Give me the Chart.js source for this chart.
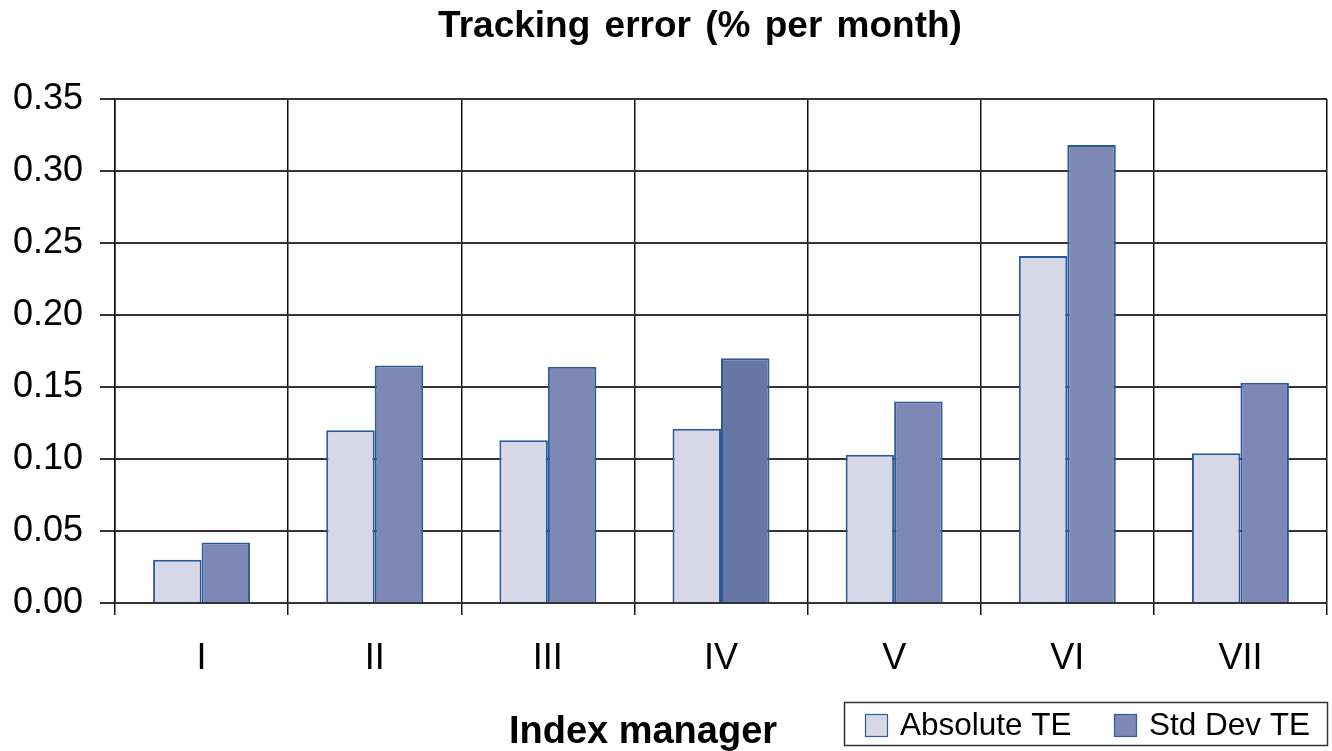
<!DOCTYPE html>
<html>
<head>
<meta charset="utf-8">
<script src="https://cdn.jsdelivr.net/npm/chart.js@4"></script>
<style>
  html, body { margin: 0; padding: 0; background: #fff; }
  #wrap { width: 1332px; height: 751px; }
</style>
</head>
<body>
<div id="wrap"><canvas id="teChart" width="1332" height="751"></canvas></div>
<script>
// Dados
const managers = ["I", "II", "III", "IV", "V", "VI", "VII"];
const absoluteTE = [0.030, 0.120, 0.113, 0.121, 0.103, 0.241, 0.104];
const stdDevTE = [0.042, 0.165, 0.164, 0.170, 0.140, 0.318, 0.153];
const yTicks = [0, 0.05, 0.1, 0.15, 0.2, 0.25, 0.3, 0.35];

const FONT = "'Liberation Sans', Arial, Helvetica, sans-serif";

// Cor da barra IV um pouco mais escura, como no original
const stdColors = managers.map((m) => (m === "IV" ? "#6878a6" : "#7d88b6"));

// Título, título do eixo x e legenda com moldura
const extraText = {
  id: "extraText",
  afterDraw(chart) {
    const ctx = chart.ctx;
    ctx.save();
    ctx.fillStyle = "#000";
    ctx.textAlign = "center";
    ctx.textBaseline = "middle";
    ctx.font = "bold 37px " + FONT;
    ctx.wordSpacing = "4px";
    ctx.fillText("Tracking error (% per month)", 700, 27);
    ctx.wordSpacing = "0px";
    ctx.font = "bold 38px " + FONT;
    ctx.fillText("Index manager", 643, 733);

    // legenda
    ctx.strokeStyle = "#333";
    ctx.lineWidth = 1.5;
    ctx.strokeRect(844.5, 702.5, 483, 43);
    const items = chart.data.datasets;
    const xs = [865, 1114];
    ctx.font = "31.5px " + FONT;
    ctx.textAlign = "left";
    items.forEach((ds, i) => {
      const c = Array.isArray(ds.backgroundColor) ? ds.backgroundColor[0] : ds.backgroundColor;
      ctx.fillStyle = c;
      ctx.fillRect(xs[i], 714, 23, 23);
      ctx.strokeStyle = "#2f5d99";
      ctx.lineWidth = 1.2;
      ctx.strokeRect(xs[i] + 0.5, 714.5, 22, 22);
      ctx.fillStyle = "#000";
      ctx.fillText(ds.label, xs[i] + 35, 726);
    });
    ctx.restore();
  },
};

new Chart(document.getElementById("teChart"), {
  type: "bar",
  data: {
    labels: managers,
    datasets: [
      {
        label: "Absolute TE",
        data: absoluteTE,
        backgroundColor: "#d6d8e7",
        borderColor: "#2a5a98",
        borderWidth: 2,
        categoryPercentage: 0.56,
        barPercentage: 1,
      },
      {
        label: "Std Dev TE",
        data: stdDevTE,
        backgroundColor: stdColors,
        borderColor: "#2a5a98",
        borderWidth: 2,
        categoryPercentage: 0.56,
        barPercentage: 1,
      },
    ],
  },
  options: {
    responsive: false,
    animation: false,
    layout: { padding: { top: 99, right: 5, left: 0, bottom: 0 } },
    plugins: {
      legend: { display: false },
      title: { display: false },
      tooltip: { enabled: false },
    },
    scales: {
      x: {
        offset: true,
        grid: {
          offset: true,
          color: "#111",
          lineWidth: 1.5,
          tickLength: 12,
        },
        border: { display: false },
        ticks: {
          color: "#000",
          padding: 22,
          font: { family: FONT, size: 36 },
        },
        afterFit(scale) {
          scale.height = 148;
        },
      },
      y: {
        min: 0,
        max: 0.35,
        afterBuildTicks(scale) {
          scale.ticks = yTicks.map((v) => ({ value: v }));
        },
        grid: {
          color: "#333",
          lineWidth: 2,
          tickLength: 15,
        },
        border: { color: "#111", width: 1.5 },
        ticks: {
          color: "#000",
          padding: 17,
          font: { family: FONT, size: 36 },
          callback: (v) => Number(v).toFixed(2),
        },
        afterFit(scale) {
          scale.width = 115;
        },
      },
    },
  },
  plugins: [extraText],
});
</script>
</body>
</html>
